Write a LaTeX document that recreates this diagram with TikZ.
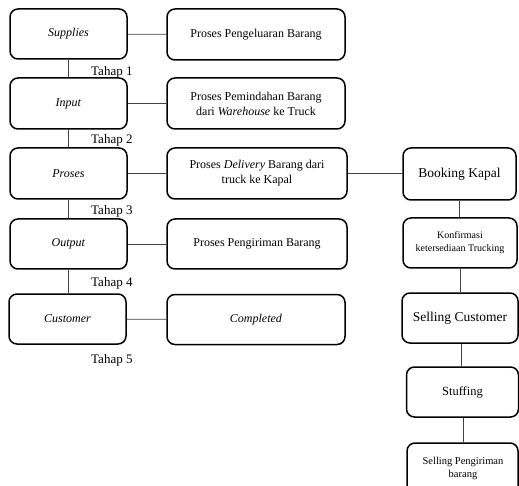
\documentclass[tikz,border=0pt]{standalone}
\usepackage{fontspec}
\setmainfont{Liberation Serif}
\begin{document}
\begin{tikzpicture}[x=1pt,y=-1pt,
  box/.style={draw, line width=1.5pt, rounded corners=8pt, inner sep=0pt, align=center, font=\fontsize{12}{15}\selectfont},
  conn/.style={line width=0.8pt, draw=black!75},
  tahap/.style={anchor=west, inner sep=0pt, font=\fontsize{13}{15}\selectfont}]
\path[use as bounding box, clip] (0,0) rectangle (519,486);
% left column
\node[box, minimum width=117pt, minimum height=50pt] (sup) at (68.5,34) {\textit{Supplies}};
\node[box, minimum width=117pt, minimum height=51pt] (inp) at (68.5,103.5) {\textit{Input}};
\node[box, minimum width=117pt, minimum height=51pt] (pro) at (68.5,173.5) {\textit{Proses}};
\node[box, minimum width=117pt, minimum height=50pt] (out) at (68.5,244) {\textit{Output}};
\node[box, minimum width=117pt, minimum height=50pt] (cus) at (67.5,319) {\textit{Customer}};
% middle column
\node[box, minimum width=178pt, minimum height=51pt] (m1) at (256,34.5) {Proses Pengeluaran Barang};
\node[box, minimum width=178pt, minimum height=51pt] (m2) at (256,103.5) {Proses Pemindahan Barang\\dari \textit{Warehouse} ke Truck};
\node[box, minimum width=180pt, minimum height=51pt] (m3) at (257,173.5) {Proses \textit{Delivery} Barang dari\\truck ke Kapal};
\node[box, minimum width=180pt, minimum height=50pt] (m4) at (257,244) {Proses Pengiriman Barang};
\node[box, minimum width=178pt, minimum height=50pt] (m5) at (256,319.5) {\textit{Completed}};
% right column
\node[box, minimum width=113pt, minimum height=52pt, font=\fontsize{13.5}{16}\selectfont] (r1) at (459.5,174) {Booking Kapal};
\node[box, minimum width=114pt, minimum height=50pt, font=\fontsize{10}{13}\selectfont] (r2) at (460,243) {Konfirmasi\\ketersediaan Trucking};
\node[box, minimum width=116pt, minimum height=50pt, font=\fontsize{13.5}{16}\selectfont] (r3) at (460,318) {Selling Customer};
\node[box, minimum width=112pt, minimum height=50pt, font=\fontsize{12.5}{15}\selectfont] (r4) at (462.5,392) {Stuffing};
\node[box, minimum width=111pt, minimum height=70pt] (r5) at (462.5,478) {};
\node[align=center, inner sep=0pt, font=\fontsize{10.5}{13}\selectfont] (r5t) at (463,468.5) {Selling Pengiriman\\barang};
% tahap labels
\node[tahap] (t1) at (91,72) {Tahap 1};
\node[tahap] (t2) at (91,140) {Tahap 2};
\node[tahap] (t3) at (91,211) {Tahap 3};
\node[tahap] (t4) at (91,283) {Tahap 4};
\node[tahap] (t5) at (91,360) {Tahap 5};
% connectors
\draw[conn] (sup) -- (inp);
\draw[conn] (inp) -- (pro);
\draw[conn] (pro) -- (out);
\draw[conn] (out.south) -- (out.south |- cus.north);
\draw[conn] (sup) -- (m1);
\draw[conn] (inp) -- (m2);
\draw[conn] (pro) -- (m3);
\draw[conn] (out) -- (m4);
\draw[conn] (cus) -- (m5);
\draw[conn] (m3) -- (m3 -| r1.west);
\draw[conn] (r1.south) -- (r1.south |- r2.north);
\draw[conn] (r2.south) -- (r2.south |- r3.north);
\draw[conn] ([xshift=1pt]r3.south) -- ([xshift=1pt]r3.south |- r4.north);
\draw[conn] ([xshift=0.5pt]r4.south) -- ([xshift=0.5pt]r4.south |- r5.north);
\end{tikzpicture}
\end{document}
